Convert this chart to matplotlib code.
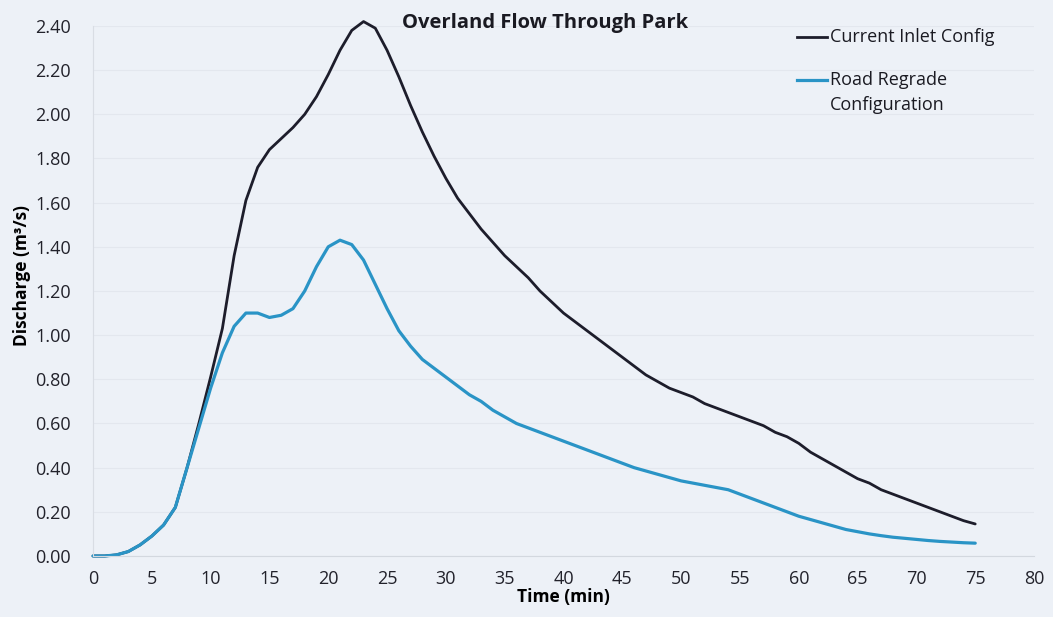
import numpy as np
import matplotlib
matplotlib.use("Agg")
import matplotlib.pyplot as plt
from matplotlib.lines import Line2D

plt.rcParams["font.family"] = ["Open Sans", "DejaVu Sans"]

BG = "#edf1f7"
BLACK = "#1d1d2b"
BLUE = "#2a94c6"

# ── Data (1-minute steps) ────────────────────────────────────────────────────
time_min = list(range(0, 76))

current_inlet = [
    0.00, 0.00, 0.005, 0.02, 0.05, 0.09, 0.14, 0.22, 0.40, 0.60,
    0.81, 1.03, 1.36, 1.61, 1.76, 1.84, 1.89, 1.94, 2.00, 2.08,
    2.18, 2.29, 2.38, 2.42, 2.39, 2.29, 2.17, 2.04, 1.92, 1.81,
    1.71, 1.62, 1.55, 1.48, 1.42, 1.36, 1.31, 1.26, 1.20, 1.15,
    1.10, 1.06, 1.02, 0.98, 0.94, 0.90, 0.86, 0.82, 0.79, 0.76,
    0.74, 0.72, 0.69, 0.67, 0.65, 0.63, 0.61, 0.59, 0.56, 0.54,
    0.51, 0.47, 0.44, 0.41, 0.38, 0.35, 0.33, 0.30, 0.28, 0.26,
    0.24, 0.22, 0.20, 0.18, 0.16, 0.145,
]

road_regrade = [
    0.00, 0.00, 0.005, 0.02, 0.05, 0.09, 0.14, 0.22, 0.40, 0.58,
    0.76, 0.92, 1.04, 1.10, 1.10, 1.08, 1.09, 1.12, 1.20, 1.31,
    1.40, 1.43, 1.41, 1.34, 1.23, 1.12, 1.02, 0.95, 0.89, 0.85,
    0.81, 0.77, 0.73, 0.70, 0.66, 0.63, 0.60, 0.58, 0.56, 0.54,
    0.52, 0.50, 0.48, 0.46, 0.44, 0.42, 0.40, 0.385, 0.37, 0.355,
    0.34, 0.33, 0.32, 0.31, 0.30, 0.28, 0.26, 0.24, 0.22, 0.20,
    0.18, 0.165, 0.15, 0.135, 0.12, 0.11, 0.10, 0.092, 0.085, 0.08,
    0.075, 0.07, 0.066, 0.063, 0.06, 0.058,
]

x_ticks = list(range(0, 85, 5))
y_ticks = [0.0, 0.2, 0.4, 0.6, 0.8, 1.0, 1.2, 1.4, 1.6, 1.8, 2.0, 2.2, 2.4]

# ── Figure ───────────────────────────────────────────────────────────────────
fig = plt.figure(figsize=(10.53, 6.17), dpi=100, facecolor=BG)
ax = fig.add_axes([0.0883, 0.0989, 0.8937, 0.8590], facecolor=BG)

ax.plot(time_min, current_inlet, color=BLACK, lw=2.0,
        solid_capstyle="round", solid_joinstyle="round", clip_on=False)
ax.plot(time_min, road_regrade, color=BLUE, lw=2.3,
        solid_capstyle="round", solid_joinstyle="round", clip_on=False)

ax.set_xlim(0, 80)
ax.set_ylim(0, 2.4)
ax.set_xticks(x_ticks)
ax.set_yticks(y_ticks)
ax.set_yticklabels([f"{v:.2f}" for v in y_ticks])
ax.tick_params(axis="both", length=0, labelsize=13, colors="#22222b")
ax.tick_params(axis="y", pad=16)
ax.tick_params(axis="x", pad=10)
ax.grid(axis="y", color="#e3e7ee", lw=0.8)
ax.set_axisbelow(True)

for side in ("top", "right"):
    ax.spines[side].set_visible(False)
ax.spines["left"].set_color("#d9dde4")
ax.spines["bottom"].set_color("#d3d8df")

ax.set_xlabel("Time (min)", fontsize=12.5, fontweight="bold", labelpad=0)
ax.set_ylabel("Discharge (m³/s)", fontsize=12.5, fontweight="bold")
ax.yaxis.set_label_coords(-0.066, 0.53)

fig.text(0.518, 0.963, "Overland Flow Through Park", ha="center", va="center",
         fontsize=14.5, fontweight="bold", color="#1a1a22")

# legend drawn by hand so the handle sits on the first text line
fig.add_artist(Line2D([0.757, 0.785], [0.940, 0.940], color=BLACK, lw=2.0))
fig.text(0.788, 0.940, "Current Inlet Config", va="center", fontsize=13, color="#1a1a22")
fig.add_artist(Line2D([0.757, 0.785], [0.870, 0.870], color=BLUE, lw=2.3))
fig.text(0.788, 0.870, "Road Regrade", va="center", fontsize=13, color="#1a1a22")
fig.text(0.788, 0.830, "Configuration", va="center", fontsize=13, color="#1a1a22")

fig.savefig("out.png", dpi=100, facecolor=BG)
